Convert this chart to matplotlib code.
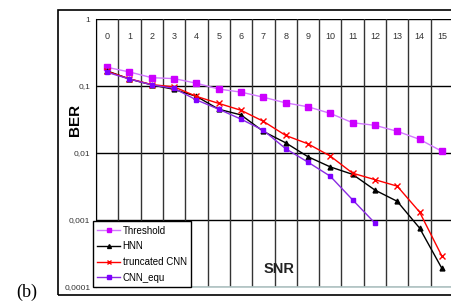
import matplotlib
matplotlib.use("Agg")
import matplotlib.pyplot as plt
from matplotlib.patches import Rectangle

# data
snr = list(range(16))
snr_equ = list(range(13))
threshold = [0.19, 0.162, 0.133, 0.129, 0.11, 0.09, 0.081, 0.068, 0.056, 0.049,
             0.039, 0.0283, 0.0259, 0.0211, 0.016, 0.0106]
hnn = [0.168, 0.127, 0.104, 0.089, 0.07, 0.045, 0.037, 0.021, 0.0142, 0.0088,
       0.0062, 0.0048, 0.0028, 0.0019, 0.00076, 0.00019]
trunc_cnn = [0.165, 0.128, 0.105, 0.097, 0.07, 0.055, 0.0434, 0.0297, 0.0183, 0.0137,
             0.009, 0.005, 0.004, 0.0032, 0.00132, 0.00029]
cnn_equ = [0.16, 0.127, 0.104, 0.092, 0.062, 0.045, 0.032, 0.0218, 0.0116, 0.0073,
           0.0045, 0.002, 0.0009]
ytick_vals = [1, 0.1, 0.01, 0.001, 0.0001]
ytick_labels = ["1", "0,1", "0,01", "0,001", "0,0001"]

plt.rcParams['font.family'] = ['Liberation Sans', 'DejaVu Sans']

W, H = 451, 305
fig = plt.figure(figsize=(W / 100, H / 100), dpi=100)

# outer frame of the chart object
fig.patches.append(Rectangle((58 / W, 1 - 295 / H), 1.0, (295 - 10) / H,
                             transform=fig.transFigure, fill=False,
                             edgecolor='black', linewidth=1.2))

ax = fig.add_axes([96 / W, 1 - 287 / H, 357 / W, (287 - 19) / H])
ax.set_yscale('log')
ax.set_ylim(0.0001, 1)
ax.set_xlim(-0.5, 15.5)

# grid: decades and category boundaries
for v in ytick_vals:
    ax.axhline(v, color='black', linewidth=1.0, zorder=1)
for i in range(17):
    ax.axvline(i - 0.5, color='#333333', linewidth=1.0, zorder=1)

ax.plot(snr, threshold, color='#d277ff', linewidth=1.0, marker='s', markersize=4,
        markerfacecolor='#cc00ff', markeredgecolor='#cc00ff', label='Threshold', zorder=3)
ax.plot(snr, hnn, color='black', linewidth=1.0, marker='^', markersize=3.5,
        label='HNN', zorder=3)
ax.plot(snr, trunc_cnn, color='#ff0000', linewidth=1.0, marker='x', markersize=4,
        markeredgewidth=1.0, label='truncated CNN', zorder=3)
ax.plot(snr_equ, cnn_equ, color='#8a2be2', linewidth=1.0, marker='s', markersize=3,
        markerfacecolor='#7f00ff', markeredgecolor='#7f00ff', label='CNN_equ', zorder=3)

ax.set_xticks([])
ax.set_yticks(ytick_vals)
ax.set_yticklabels(ytick_labels, fontsize=6, color='#333333')
ax.yaxis.set_minor_locator(matplotlib.ticker.NullLocator())
ax.tick_params(axis='y', length=0, pad=4)

for s in ['top', 'right']:
    ax.spines[s].set_visible(False)
ax.spines['left'].set_color('black')
ax.spines['bottom'].set_color('#b0c4c4')
ax.spines['bottom'].set_linewidth(1.2)

# category labels inside the plot, at top
for i in snr:
    ax.text(i, 0.55, str(i), ha='center', va='center', fontsize=6.5, color='#333333')

fig.text(75 / W, 1 - 120 / H, 'BER', rotation=90, ha='center', va='center',
         fontsize=11, fontweight='bold')
fig.text(279 / W, 1 - 269 / H, 'SNR', ha='center', va='center',
         fontsize=10.5, fontweight='bold', color='#222222')
fig.text(27 / W, 1 - 292 / H, '(b)', ha='center', va='center',
         fontsize=13, family='Liberation Serif')

leg = ax.legend(loc='lower left', bbox_to_anchor=(93 / W, 1 - 287 / H),
                bbox_transform=fig.transFigure, borderaxespad=0, fontsize=7,
                frameon=True, fancybox=False, edgecolor='black', framealpha=1,
                handlelength=2.3, handletextpad=0.3, labelspacing=0.58,
                borderpad=0.45, markerscale=0.8)
leg.get_frame().set_linewidth(1.0)
leg.set_zorder(5)

fig.savefig('out.png', dpi=100)
